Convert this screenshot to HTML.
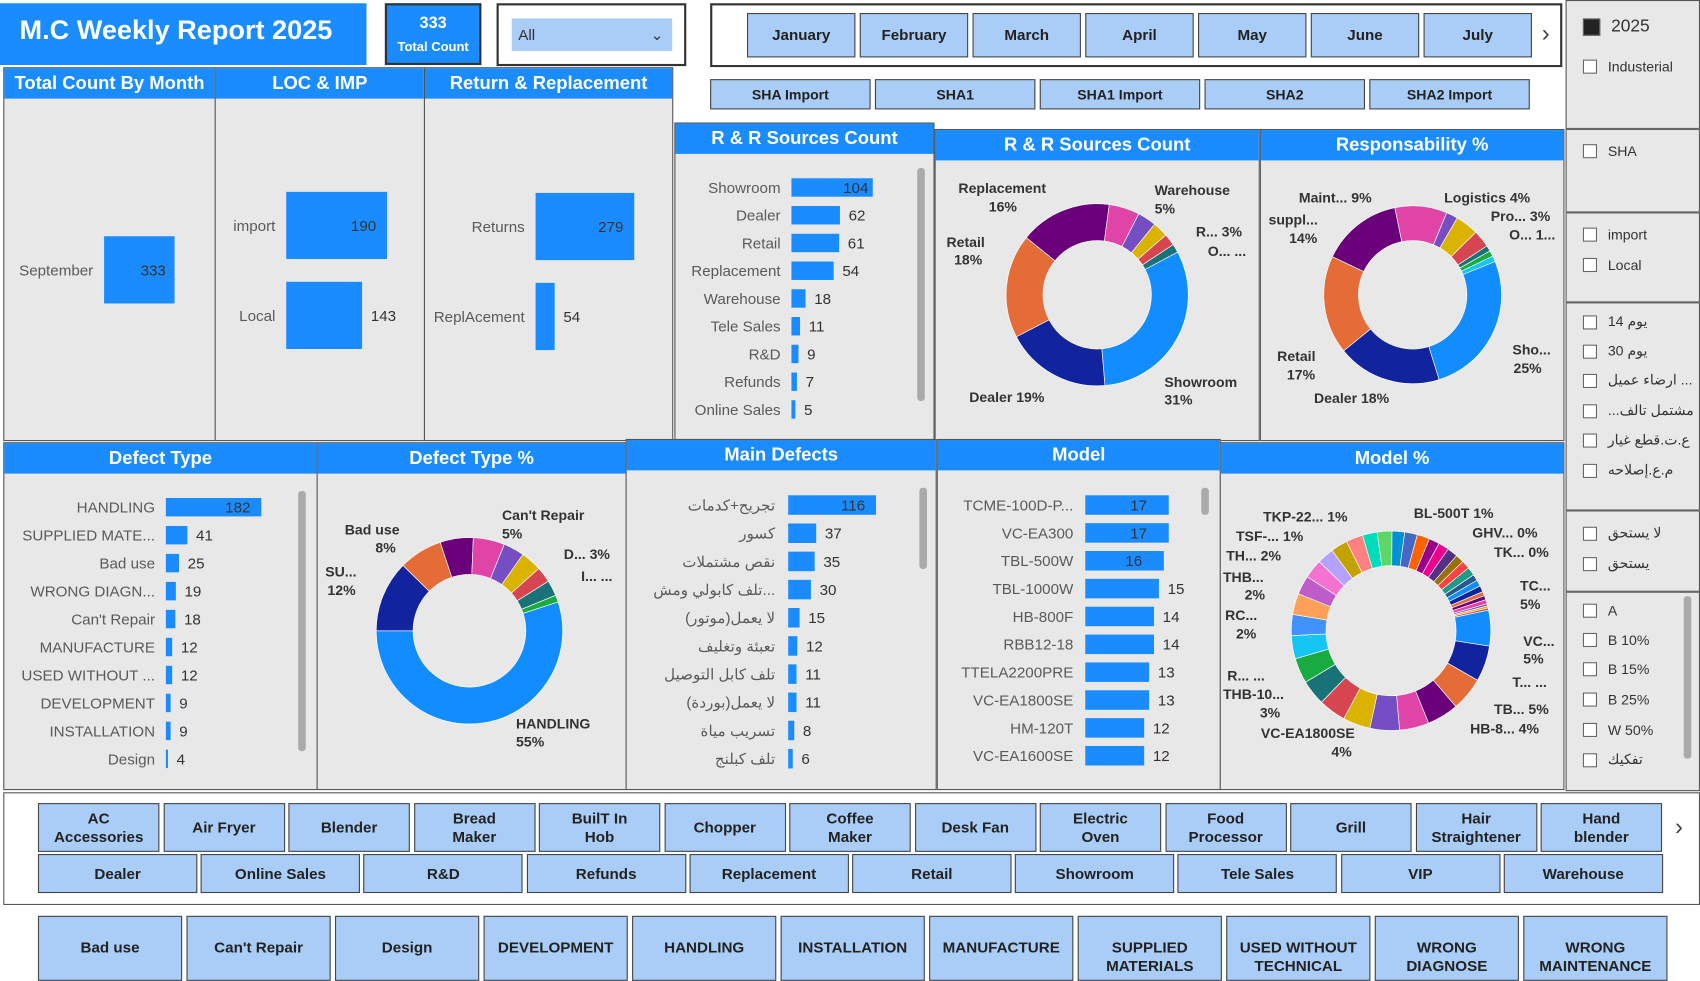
<!DOCTYPE html>
<html><head><meta charset="utf-8">
<style>
html,body{margin:0;padding:0;width:1700px;height:970px;overflow:hidden;background:#fff;}
#root{position:absolute;left:0;top:0;width:1568px;height:895px;transform:scale(1.08418,1.08380);transform-origin:0 0;font-family:"Liberation Sans","Noto Sans CJK SC",sans-serif;}
.abs{position:absolute;box-sizing:border-box;}
.panel{position:absolute;background:#e8e8e8;border:1px solid #555;box-sizing:border-box;}
.hdr{position:absolute;left:0;top:0;right:0;height:28px;background:#1a8cff;color:#fff;font-weight:bold;font-size:17px;text-align:center;line-height:28px;white-space:nowrap;overflow:hidden;}
.btn{position:absolute;background:#a9cdf7;border:1px solid #444;box-sizing:border-box;font-size:14px;font-weight:bold;color:#222;text-align:center;display:flex;align-items:center;justify-content:center;line-height:17px;padding:0 6px;}
svg text{font-family:"Liberation Sans","Noto Sans CJK SC",sans-serif;}
.sl{position:absolute;left:1460px;font-size:13px;color:#333;display:flex;align-items:center;}
.cb{width:11px;height:11px;border:1px solid #666;background:#fff;margin-right:10px;}
.sep{position:absolute;left:1445px;width:123px;height:2px;background:#666;}
</style></head><body>
<div id="root">
<div class="abs" style="left:0;top:3px;width:338px;height:57px;background:#1a8cff;color:#fff;font-weight:bold;font-size:25px;line-height:50px;padding-left:18px;">M.C Weekly Report 2025</div>
<div class="abs" style="left:355px;top:3px;width:89px;height:57px;background:#1a8cff;border:2px solid #333;color:#fff;text-align:center;font-weight:bold;"><div style="font-size:15px;margin-top:8px">333</div><div style="font-size:12px;margin-top:6px">Total Count</div></div>
<div class="abs" style="left:458px;top:3px;width:175px;height:58px;border:2px solid #333;background:#fff;">
<div class="abs" style="left:12px;top:12px;width:148px;height:30px;background:#a9cdf7;font-size:14px;color:#333;line-height:30px;padding-left:6px;">All<span style="position:absolute;right:8px;top:0;font-size:14px">&#8964;</span></div></div>
<div class="abs" style="left:655px;top:3px;width:786px;height:59px;border:2px solid #333;background:#fff;"></div>
<div class="abs" style="left:1422px;top:18px;font-size:22px;color:#444">&#8250;</div>
<div class="abs" style="left:622px;top:62px;width:820px;height:50px;background:#fff;"></div>

<div class="panel" style="left:3px;top:62px;width:196px;height:345px;"><div class="hdr">Total Count By Month</div></div>
<div class="panel" style="left:198px;top:62px;width:194px;height:345px;"><div class="hdr">LOC &amp; IMP</div></div>
<div class="panel" style="left:391px;top:62px;width:230px;height:345px;"><div class="hdr">Return &amp; Replacement</div></div>
<div class="panel" style="left:622px;top:113px;width:240px;height:293px;"><div class="hdr">R &amp; R Sources Count</div></div>
<div class="panel" style="left:862px;top:119px;width:300px;height:288px;"><div class="hdr">R &amp; R Sources Count</div></div>
<div class="panel" style="left:1162px;top:119px;width:281px;height:288px;"><div class="hdr">Responsability %</div></div>
<div class="panel" style="left:3px;top:408px;width:290px;height:321px;"><div class="hdr">Defect Type</div></div>
<div class="panel" style="left:292px;top:408px;width:286px;height:321px;"><div class="hdr">Defect Type %</div></div>
<div class="panel" style="left:577px;top:405px;width:287px;height:324px;"><div class="hdr">Main Defects</div></div>
<div class="panel" style="left:864px;top:405px;width:262px;height:324px;"><div class="hdr">Model</div></div>
<div class="panel" style="left:1125px;top:408px;width:318px;height:321px;"><div class="hdr">Model %</div></div>

<div class="panel" style="left:1444px;top:0;width:124px;height:730px;background:#e8e8e8;"></div>
<div class="abs" style="left:3px;top:731px;width:1565px;height:104px;border:1px solid #555;background:#fff;"></div>
<div class="abs" style="left:1545px;top:750px;font-size:22px;color:#444">&#8250;</div>
<div class="abs" style="left:3px;top:836px;width:1565px;height:59px;background:#fff;"></div>
<svg id="chart" width="1568" height="895" style="position:absolute;left:0;top:0"></svg>
</div>
<script>
// ---------- data ----------
const months=["January","February","March","April","May","June","July"];
const shaItems=["SHA Import","SHA1","SHA1 Import","SHA2","SHA2 Import"];
const productCats=["AC Accessories","Air Fryer","Blender","Bread Maker","BuilT In Hob","Chopper","Coffee Maker","Desk Fan","Electric Oven","Food Processor","Grill","Hair Straightener","Hand blender"];
const sourceItems=["Dealer","Online Sales","R&D","Refunds","Replacement","Retail","Showroom","Tele Sales","VIP","Warehouse"];
const defectItems=["Bad use","Can't Repair","Design","DEVELOPMENT","HANDLING","INSTALLATION","MANUFACTURE","SUPPLIED MATERIALS","USED WITHOUT TECHNICAL","WRONG DIAGNOSE","WRONG MAINTENANCE"];
const monthCats=["September"]; const monthVals=[333];
const locCats=["import","Local"]; const locVals=[190,143];
const retCats=["Returns","ReplAcement"]; const retVals=[279,54];
const rrCats=["Showroom","Dealer","Retail","Replacement","Warehouse","Tele Sales","R&D","Refunds","Online Sales"];
const rrVals=[104,62,61,54,18,11,9,7,5];
const defCats=["HANDLING","SUPPLIED MATE...","Bad use","WRONG DIAGN...","Can't Repair","MANUFACTURE","USED WITHOUT ...","DEVELOPMENT","INSTALLATION","Design"];
const defVals=[182,41,25,19,18,12,12,9,9,4];
const mainCats=["تجريح+كدمات","كسور","نقص مشتملات","تلف كابولي ومش...","لا يعمل(موتور)","تعبئة وتغليف","تلف كابل التوصيل","لا يعمل(بوردة)","تسريب مياة","تلف كبلنج"];
const mainVals=[116,37,35,30,15,12,11,11,8,6];
const modelCats=["TCME-100D-P...","VC-EA300","TBL-500W","TBL-1000W","HB-800F","RBB12-18","TTELA2200PRE","VC-EA1800SE","HM-120T","VC-EA1600SE"];
const modelVals=[17,17,16,15,14,14,13,13,12,12];
const respVals=[25,18,17,14,9,2,4,3,1,1,1];
const modelPctVals=[17,17,16,15,14,14,13,13,12,12,11,10,10,9,9,8,8,8,7,7,6,6,6,5,5,5,4,4,4,3,3,3,2,2,2,1,1,1];
const palette=["#118DFF","#12239E","#E66C37","#6B007B","#E044A7","#744EC2","#D9B300","#D64550","#197278","#1AAB40","#15C6F4","#4092FF","#FFA058","#BE5DC9","#F472D0","#B5A1FF","#C4A200","#FF8080","#00DBBC","#5BD667","#0091D5","#4668C5","#FF6300","#99008A","#EC008C","#533285","#99700A","#FF4141","#1F9A85","#255A91"];

const svg=document.getElementById('chart');const NS="http://www.w3.org/2000/svg";
function mk(tag,attrs,parent){const e=document.createElementNS(NS,tag);for(const k in attrs)e.setAttribute(k,attrs[k]);(parent||svg).appendChild(e);return e;}
function txt(x,y,s,anchor,size,color,parent,weight){const t=mk('text',{x:x,y:y,'text-anchor':anchor,'font-size':size,fill:color,'font-weight':weight||'normal'},parent);t.textContent=s;return t;}

function hbar(name,cats,vals,o){
  const g=mk('g',{});
  
  
  const max=Math.max(...vals);
  cats.forEach((c,i)=>{
    const y=o.y0+i*o.step; const w=vals[i]/max*o.maxW;
    const r=mk('rect',{x:o.x0,y:y-o.bh/2,width:w,height:o.bh,fill:'#1a8cff'},g);
    
    
    const l=txt(o.x0-o.gap,y+5,c,'end',o.fs,'#5a5a5a',g);
    
    
    const inside=w>o.maxW*0.9;
    const v=txt(inside?o.x0+w-o.pad:o.x0+w+8,y+5,vals[i],inside?'end':'start',o.fs,'#333',g);
    
    
  });
}
hbar('month-bar-chart',monthCats,monthVals,{x0:96,y0:249,step:0,bh:62,maxW:65,gap:10,fs:14,pad:8});
hbar('loc-imp-bar-chart',locCats,locVals,{x0:264,y0:208,step:83,bh:62,maxW:93,gap:10,fs:14,pad:10});
hbar('return-bar-chart',retCats,retVals,{x0:494,y0:209,step:83,bh:62,maxW:91,gap:10,fs:14,pad:10});
hbar('rr-sources-bar-chart',rrCats,rrVals,{x0:730,y0:173,step:25.6,bh:17,maxW:75,gap:10,fs:14,pad:4});
hbar('defect-type-bar-chart',defCats,defVals,{x0:153,y0:468,step:25.8,bh:17,maxW:88,gap:10,fs:14,pad:10});
hbar('main-defects-bar-chart',mainCats,mainVals,{x0:727,y0:466,step:26,bh:18,maxW:81,gap:12,fs:14,pad:10});
hbar('model-bar-chart',modelCats,modelVals,{x0:1001,y0:466,step:25.7,bh:18,maxW:77,gap:11,fs:14,pad:20});

[[846,155,215],[275,453,240],[848,450,75],[1108,450,25],[1553,550,150]].forEach(s=>{const r=mk('rect',{x:s[0],y:s[1],width:7,height:s[2],rx:3,fill:'#aaa'});});

function donut(name,cx,cy,ro,ri,vals,start){
  const g=mk('g',{});
  
  
  const tot=vals.reduce((a,b)=>a+b,0);let a=start*Math.PI/180;
  vals.forEach((v,i)=>{
    const da=v/tot*2*Math.PI;const a2=a+da;
    const p=(ang,r)=>[cx+r*Math.sin(ang),cy-r*Math.cos(ang)];
    const [x1,y1]=p(a,ro),[x2,y2]=p(a2,ro),[x3,y3]=p(a2,ri),[x4,y4]=p(a,ri);const lg=da>Math.PI?1:0;
    const s=mk('path',{d:`M${x1} ${y1}A${ro} ${ro} 0 ${lg} 1 ${x2} ${y2}L${x3} ${y3}A${ri} ${ri} 0 ${lg} 0 ${x4} ${y4}Z`,fill:palette[i%palette.length],stroke:'#fff','stroke-width':0.6},g);
    
    
    a=a2;
  });
}
donut('rr-sources-donut',1012,272,84,50,rrVals,62);
donut('responsibility-donut',1303,272,82,50,respVals,68);
donut('defect-type-donut',433,582,86,52,defVals,72);
donut('model-pct-donut',1283,582,92,60,modelPctVals,78);

function labels(name,list){list.forEach(l=>{const t=txt(l[0],l[1],l[2],l[3]||'start',13,'#333',null,'bold');});}
labels('rr-donut-label',[[884,178,'Replacement'],[938,195,'16%','end'],[873,228,'Retail'],[906,244,'18%','end'],[894,371,'Dealer 19%'],[1074,357,'Showroom'],[1100,373,'31%','end'],[1065,180,'Warehouse'],[1065,197,'5%'],[1103,218,'R... 3%'],[1114,236,'O... ...']]);
labels('resp-donut-label',[[1198,187,'Maint... 9%'],[1170,207,'suppl...'],[1215,224,'14%','end'],[1178,333,'Retail'],[1213,350,'17%','end'],[1212,372,'Dealer 18%'],[1332,187,'Logistics 4%'],[1375,204,'Pro... 3%'],[1392,221,'O... 1...'],[1395,327,'Sho...'],[1422,344,'25%','end']]);
labels('defect-donut-label',[[318,493,'Bad use'],[365,510,'8%','end'],[300,532,'SU...'],[328,549,'12%','end'],[463,480,"Can't Repair"],[463,497,'5%'],[520,516,'D... 3%'],[536,536,'I... ...'],[476,672,'HANDLING'],[502,689,'55%','end']]);
labels('model-donut-label',[[1165,481,'TKP-22... 1%'],[1304,478,'BL-500T 1%'],[1140,499,'TSF-... 1%'],[1358,496,'GHV... 0%'],[1131,517,'TH... 2%'],[1378,514,'TK... 0%'],[1128,537,'THB...'],[1148,553,'2%'],[1402,545,'TC...'],[1402,562,'5%'],[1130,572,'RC...'],[1140,589,'2%'],[1405,596,'VC...'],[1405,612,'5%'],[1132,628,'R... ...'],[1395,634,'T... ...'],[1128,645,'THB-10...'],[1162,662,'3%'],[1378,659,'TB... 5%'],[1356,677,'HB-8... 4%'],[1163,681,'VC-EA1800SE'],[1228,698,'4%']]);

const root=document.getElementById('root');
function addBtn(name,label,x,y,w,h,fs){const b=document.createElement('div');b.className='btn';b.style.cssText=`left:${x}px;top:${y}px;width:${w}px;height:${h}px;font-size:${fs||14}px`;b.textContent=label;


root.appendChild(b);return b;}
months.forEach((m,i)=>addBtn('month-button',m,689+i*104,12,100,41,14));
shaItems.forEach((m,i)=>addBtn('sha-button',m,655+i*152,73,148,28,13));
productCats.forEach((m,i)=>{const b=addBtn('category-button',m,35+i*115.5,741,112,45,14);b.style.padding='0 14px';});
sourceItems.forEach((m,i)=>addBtn('source-button',m,35+i*150.2,788,147,36,14));
defectItems.forEach((m,i)=>{const b=addBtn('defect-button',m,35+i*137,845,133,60,14);b.style.alignItems='flex-start';b.style.paddingTop='20px';});

const slItems=[[24,'2025',1],[62,'Industerial'],[140,'SHA'],[217,'import'],[245,'Local'],[297,'يوم 14'],[324,'يوم 30'],[351,'ارضاء عميل ...'],[379,'...مشتمل تالف'],[406,'ع.ت.قطع غيار'],[434,'م.ع.إصلاحه'],[492,'لا يستحق'],[520,'يستحق'],[564,'A'],[591,'B 10%'],[618,'B 15%'],[646,'B 25%'],[674,'W 50%'],[701,'تفكيك']];
slItems.forEach(s=>{const d=document.createElement('div');d.className='sl';d.style.top=(s[0]-8)+'px';if(s[2])d.style.fontSize='16px';d.innerHTML=`<span class="cb" style="${s[2]?'background:#222;width:14px;height:14px;':''}"></span>${s[1]}`;


root.appendChild(d);});
[118,195,278,470,545].forEach(y=>{const d=document.createElement('div');d.className='sep';d.style.top=y+'px';


root.appendChild(d);});
</script>
</body></html>
